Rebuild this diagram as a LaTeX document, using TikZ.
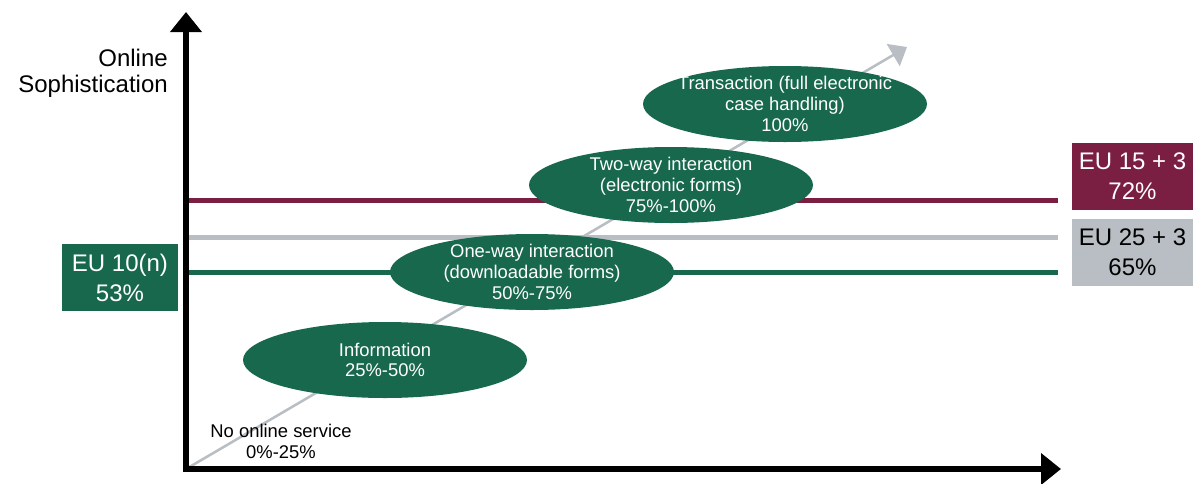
\documentclass[tikz,border=0pt]{standalone}
\usepackage{fontspec}
\setmainfont{Liberation Sans}
\usetikzlibrary{arrows.meta,shapes.geometric}

\definecolor{stagegreen}{HTML}{17684D}
\definecolor{eumaroon}{HTML}{7A1E42}
\definecolor{eugray}{HTML}{B8BEC3}

\tikzset{
  axis/.style={line width=4.5pt,
    {Triangle[width=23pt,length=15pt]}-{Triangle[width=23pt,length=15pt]}},
  trend/.style={line width=1.9pt, draw=eugray, -{Triangle[width=19pt,length=12pt]}},
  level/.style={line width=3.75pt},
  stage/.style={shape=ellipse, fill=stagegreen, text=white, minimum width=213pt,
    minimum height=57pt, inner xsep=-25pt, inner ysep=-8pt, align=center,
    font=\fontsize{13.8}{15.5}\selectfont},
  eubox/.style={minimum width=90.75pt, minimum height=50pt, inner sep=0pt,
    align=center, font=\fontsize{18}{22.5}\selectfont},
}

\begin{document}
\begin{tikzpicture}[x=0.75pt,y=-0.75pt]
  \useasboundingbox (0,0) rectangle (1197,483);

  \coordinate (o) at (186,469);
  \coordinate (ytip) at (186,12);
  \coordinate (xtip) at (1061,469);
  \coordinate (trendtip) at (907,47);

  % levels reached
  \coordinate (m1) at (186,200);
  \coordinate (m2) at (1058,200);
  \coordinate (g1) at (186,237);
  \coordinate (g2) at (1058,237);
  \coordinate (n1) at (186,272);
  \coordinate (n2) at (1058,272);
  \draw [level,draw=eumaroon] (m1) -- (m2);
  \draw [level,draw=eugray] (g1) -- (g2);
  \draw [level,draw=stagegreen] (n1) -- (n2);

  \draw [trend] (o) -- (trendtip);

  \node (info) at (385,360) [stage] {Information\\25\%-50\%};
  \node (oneway) at (532,272) [stage] {One-way interaction\\(downloadable forms)\\50\%-75\%};
  \node (twoway) at (671,185) [stage] {Two-way interaction\\(electronic forms)\\75\%-100\%};
  \node (trans) at (785,104) [stage] {Transaction (full electronic\\case handling)\\100\%};

  \node (none) at (281,441.5) [align=center, inner sep=0pt, font=\fontsize{13.8}{15.5}\selectfont]
    {No online service\\0\%-25\%};

  \draw [axis] (ytip) -- (o) -- (xtip);

  \node (ylabel) at (168,73) [anchor=east, align=right, inner sep=0pt,
    font=\fontsize{18}{19.5}\selectfont] {Online\\Sophistication};

  \node (eu15) at (1132.5,176.5) [eubox, fill=eumaroon, text=white] {EU 15 + 3\\72\%};
  \node (eu25) at (1132.5,252.5) [eubox, fill=eugray, text=black] {EU 25 + 3\\65\%};
  \node (eu10) at (120,277.5) [eubox, minimum width=87pt, fill=stagegreen, text=white] {EU 10(n)\\53\%};

\end{tikzpicture}
\end{document}
